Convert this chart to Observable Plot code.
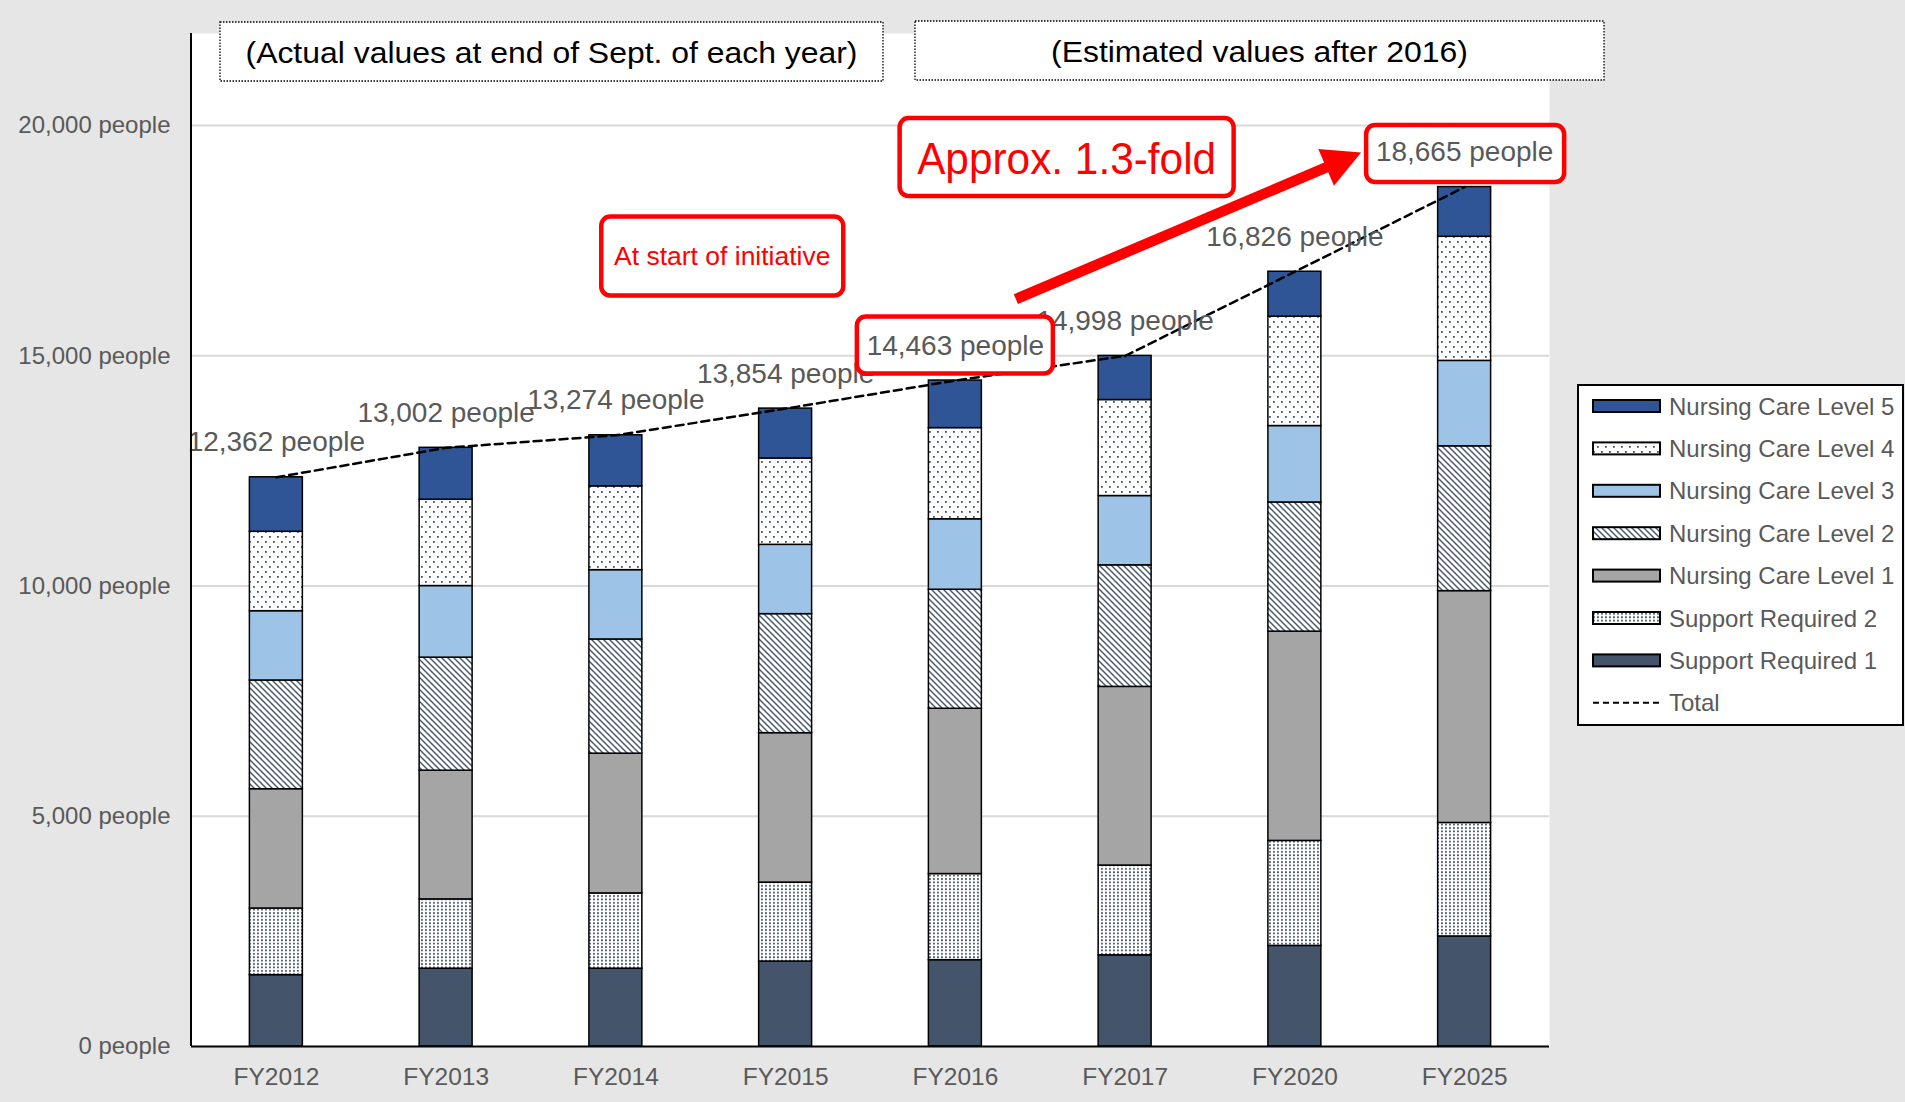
<!DOCTYPE html>
<html><head><meta charset="utf-8">
<script src="https://cdn.jsdelivr.net/npm/d3@7"></script>
<script src="https://cdn.jsdelivr.net/npm/@observablehq/plot@0.6"></script>
<style>
html,body{margin:0;padding:0;background:#e6e6e6;}
#chart{width:1905px;height:1102px;}
#chart svg text{font-family:"Liberation Sans",Arial,sans-serif;}
#chart svg g[aria-label$="tick label"]{fill:#595959;}
</style></head><body><div id="chart"></div>
<script>
// ---- data ----
const years = ["FY2012","FY2013","FY2014","FY2015","FY2016","FY2017","FY2020","FY2025"];
const seriesNames = ["Support Required 1","Support Required 2","Nursing Care Level 1","Nursing Care Level 2","Nursing Care Level 3","Nursing Care Level 4","Nursing Care Level 5"];
const supportRequired1 = [1550, 1690, 1690, 1845, 1875, 1980, 2185, 2390];
const supportRequired2 = [1447, 1505, 1635, 1715, 1870, 1950, 2280, 2465];
const nursingCare1     = [2591, 2795, 3035, 3245, 3590, 3880, 4545, 5035];
const nursingCare2     = [2361, 2455, 2480, 2585, 2585, 2640, 2805, 3145];
const nursingCare3     = [1505, 1555, 1505, 1505, 1530, 1505, 1660, 1855];
const nursingCare4     = [1724, 1875, 1820, 1875, 1980, 2085, 2375, 2695];
const nursingCare5     = [1184, 1127, 1109, 1084, 1033,  958,  976, 1080];
const totals           = [12362, 13002, 13274, 13854, 14463, 14998, 16826, 18665];
const yTicks = [0, 5000, 10000, 15000, 20000];
const seriesFills = ["#44546A", "url(#pSR2)", "#A5A5A5", "url(#pNC2)", "#9DC3E6", "url(#pNC4)", "#2F5597"];
const headerTexts = ["(Actual values at end of Sept. of each year)", "(Estimated values after 2016)"];
const calloutTexts = ["At start of initiative", "Approx. 1.3-fold"];

const seriesValues = [supportRequired1, supportRequired2, nursingCare1, nursingCare2, nursingCare3, nursingCare4, nursingCare5];
const long = [];
seriesNames.forEach((s, si) => years.forEach((y, yi) => long.push({year: y, series: s, value: seriesValues[si][yi]})));
const totalRows = years.map((y, i) => ({year: y, total: totals[i]}));
const fmt = d3.format(",");

const plot = Plot.plot({
  width: 1905, height: 1102,
  marginLeft: 191, marginRight: 356, marginTop: 33, marginBottom: 56,
  style: {background: "transparent", fontFamily: "Liberation Sans, Arial, sans-serif", overflow: "visible"},
  x: {domain: years, paddingInner: 0.688, paddingOuter: 0.344, round: false, label: null},
  y: {domain: [0, 22000], label: null},
  color: {type: "ordinal", domain: seriesNames, range: seriesFills},
  marks: [
    Plot.frame({fill: "white", stroke: "none"}),
    Plot.gridY(yTicks.slice(1), {stroke: "#d9d9d9", strokeOpacity: 1, strokeWidth: 2}),
    Plot.barY(long, {x: "year", y: "value", fill: "series", stroke: "black", strokeWidth: 1.5}),
    Plot.line(totalRows, {x: "year", y: "total", stroke: "black", strokeWidth: 2.5, strokeDasharray: "8,5"}),
    Plot.text(totalRows, {x: "year", y: "total", text: d => fmt(d.total) + " people", dy: -35, fontSize: 28, fill: "#595959"}),
    Plot.ruleY([0], {stroke: "black", strokeWidth: 2}),
    Plot.axisY({ticks: yTicks, tickFormat: d => fmt(d) + " people", tickSize: 0, tickPadding: 21, fontSize: 24, label: null, color: "#595959"}),
    Plot.axisX({tickSize: 0, tickPadding: 21, fontSize: 24.5, label: null, color: "#595959"})
  ]
});
document.getElementById("chart").appendChild(plot);

const svg = d3.select(plot);
const X = plot.scale("x"), Y = plot.scale("y");
const cx = v => X.apply(v) + X.bandwidth / 2;
const cy = v => Y.apply(v);

// patterns
const defs = svg.insert("defs", ":first-child");
const ink = "#44546A";
let p = defs.append("pattern").attr("id", "pNC4").attr("patternUnits", "userSpaceOnUse").attr("width", 8).attr("height", 10);
p.append("rect").attr("width", 8).attr("height", 10).attr("fill", "white");
p.append("rect").attr("x", 1).attr("y", 1).attr("width", 1.8).attr("height", 1.8).attr("fill", ink);
p.append("rect").attr("x", 5).attr("y", 6).attr("width", 1.8).attr("height", 1.8).attr("fill", ink);
p = defs.append("pattern").attr("id", "pSR2").attr("patternUnits", "userSpaceOnUse").attr("width", 4).attr("height", 3.4);
p.append("rect").attr("width", 4).attr("height", 3.4).attr("fill", "white");
p.append("rect").attr("x", 1).attr("y", 1).attr("width", 1.9).attr("height", 1.7).attr("fill", ink);
p = defs.append("pattern").attr("id", "pNC2").attr("patternUnits", "userSpaceOnUse").attr("width", 6).attr("height", 6);
p.append("rect").attr("width", 6).attr("height", 6).attr("fill", "white");
p.append("path").attr("d", "M0,0L6,6M-3,3L3,9M3,-3L9,3").attr("stroke", ink).attr("stroke-width", 1.4).attr("fill", "none");

// y-axis line
const xr = X.range, yr = Y.range;
svg.append("line").attr("x1", xr[0]).attr("x2", xr[0]).attr("y1", yr[1]).attr("y2", yr[0])
  .attr("stroke", "black").attr("stroke-width", 2);

// header dotted boxes
const hdr = svg.append("g").attr("text-anchor", "middle");
[[220, 22, 883, 81, 612], [915, 21, 1604, 80, 417]].forEach(([x0, y0, x1, y1, tl], i) => {
  hdr.append("rect").attr("x", x0).attr("y", y0).attr("width", x1 - x0).attr("height", y1 - y0)
    .attr("fill", "white").attr("stroke", "black").attr("stroke-width", 1.3).attr("stroke-dasharray", "1.5,1.5");
  hdr.append("text").attr("x", (x0 + x1) / 2).attr("y", (y0 + y1) / 2 + 1).attr("text-anchor", "middle")
    .attr("dominant-baseline", "central").attr("font-size", 30).attr("fill", "black")
    .attr("textLength", tl).attr("lengthAdjust", "spacingAndGlyphs").text(headerTexts[i]);
});

// red annotations
const ann = svg.append("g");
function redBox(xc, yc, w, h) {
  ann.append("rect").attr("x", xc - w / 2).attr("y", yc - h / 2).attr("width", w).attr("height", h)
    .attr("rx", 9).attr("fill", "white").attr("stroke", "#ff0000").attr("stroke-width", 4.5);
}
// arrow
const S = [cx("FY2016") + 61, cy(14463) - 81];
const T = [cx("FY2025") - 103, cy(18665) - 34];
{
  const dx = T[0] - S[0], dy = T[1] - S[1], len = Math.hypot(dx, dy);
  const u = [dx / len, dy / len], n = [-u[1], u[0]];
  const L = 38, W = 20;
  const B = [T[0] - u[0] * L, T[1] - u[1] * L];
  ann.append("line").attr("x1", S[0]).attr("y1", S[1]).attr("x2", B[0] + u[0] * 2).attr("y2", B[1] + u[1] * 2)
    .attr("stroke", "#ff0000").attr("stroke-width", 10.5);
  ann.append("path").attr("d", `M${T[0]},${T[1]}L${B[0] + n[0] * W},${B[1] + n[1] * W}L${B[0] - n[0] * W},${B[1] - n[1] * W}Z`)
    .attr("fill", "#ff0000");
}
redBox(cx("FY2016"), cy(14463) - 35, 196, 57);
redBox(cx("FY2025") + 1, cy(18665) - 33, 198, 57);
{
  const x1 = (cx("FY2014") + cx("FY2015")) / 2 + 22, y1 = cy(20000) + 131;
  redBox(x1, y1, 242, 79);
  ann.append("text").attr("x", x1).attr("y", y1).attr("text-anchor", "middle").attr("dominant-baseline", "central")
    .attr("font-size", 26.5).attr("fill", "#ff0000").text(calloutTexts[0]);
  const x2 = cx("FY2017") - 58, y2 = cy(20000) + 32;
  redBox(x2, y2, 334, 78);
  ann.append("text").attr("x", x2).attr("y", y2 + 1).attr("text-anchor", "middle").attr("dominant-baseline", "central")
    .attr("font-size", 44).attr("fill", "#ff0000").attr("textLength", 299).attr("lengthAdjust", "spacingAndGlyphs").text(calloutTexts[1]);
}
// boxed total labels above the boxes
{
  const tg = plot.querySelector('g[aria-label="text"]');
  const clone = tg.cloneNode(true);
  const keep = new Set([years.indexOf("FY2016"), years.indexOf("FY2025")]);
  Array.from(clone.children).forEach((c, i) => { if (!keep.has(i)) c.remove(); });
  plot.appendChild(clone);
}

// legend
const lg = svg.append("g").attr("text-anchor", "start");
lg.append("rect").attr("x", 1578).attr("y", 385).attr("width", 325).attr("height", 340)
  .attr("fill", "white").attr("stroke", "black").attr("stroke-width", 2);
const legendItems = seriesNames.map((s, i) => ({name: s, fill: seriesFills[i]})).reverse();
legendItems.push({name: "Total", fill: null});
legendItems.forEach((it, k) => {
  const yc = 406 + k * 42.4;
  if (it.fill) {
    lg.append("rect").attr("x", 1593).attr("y", yc - 6).attr("width", 67).attr("height", 12)
      .attr("fill", it.fill).attr("stroke", "black").attr("stroke-width", 2);
  } else {
    lg.append("line").attr("x1", 1593).attr("x2", 1660).attr("y1", yc).attr("y2", yc)
      .attr("stroke", "black").attr("stroke-width", 2).attr("stroke-dasharray", "6,4");
  }
  lg.append("text").attr("x", 1669).attr("y", yc).attr("text-anchor", "start").attr("dominant-baseline", "central")
    .attr("font-size", 24).attr("fill", "#595959").text(it.name);
});
</script></body></html>
